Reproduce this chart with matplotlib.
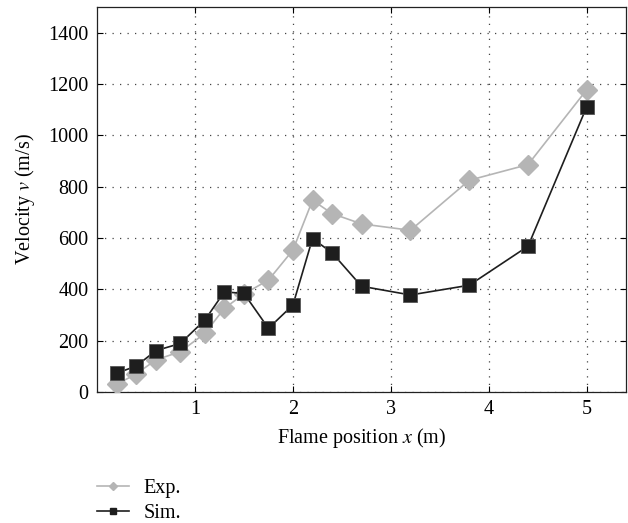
import matplotlib
matplotlib.use("Agg")
import matplotlib.pyplot as plt
from matplotlib.lines import Line2D

# Data
x_exp = [0.2, 0.4, 0.6, 0.85, 1.1, 1.3, 1.5, 1.75, 2.0, 2.2, 2.4, 2.7, 3.2, 3.8, 4.4, 5.0]
v_exp = [30, 70, 125, 157, 228, 326, 382, 436, 553, 747, 695, 655, 630, 825, 886, 1178]

x_sim = [0.2, 0.4, 0.6, 0.85, 1.1, 1.3, 1.5, 1.75, 2.0, 2.2, 2.4, 2.7, 3.2, 3.8, 4.4, 5.0]
v_sim = [73, 101, 161, 189, 280, 390, 384, 248, 339, 598, 542, 412, 378, 416, 568, 1112]

x_ticks = [1, 2, 3, 4, 5]
y_ticks = [0, 200, 400, 600, 800, 1000, 1200, 1400]

plt.rcParams['font.family'] = ['Liberation Serif', 'DejaVu Serif']
plt.rcParams['mathtext.fontset'] = 'stix'
fs = 14.5

exp_color = '#b5b5b5'
sim_color = '#1e1e1e'

fig = plt.figure(figsize=(6.28, 5.23), dpi=100)
ax = fig.add_axes([0.1545, 0.2505, 0.8423, 0.7361])

ax.plot(x_exp, v_exp, color=exp_color, lw=1.2, marker='D', ms=10.5,
        mfc=exp_color, mec=exp_color, zorder=3)
ax.plot(x_sim, v_sim, color=sim_color, lw=1.2, marker='s', ms=10,
        mfc=sim_color, mec='#555555', mew=0.6, zorder=4)

ax.set_xlim(0, 5.4)
ax.set_ylim(0, 1500)
ax.set_xticks(x_ticks)
ax.set_yticks(y_ticks)
ax.tick_params(direction='in', top=True, right=True, length=4, width=0.8,
               labelsize=fs, pad=6)
ax.grid(True, linestyle=(0, (1, 5)), color='#444444', lw=0.9)
for s in ax.spines.values():
    s.set_linewidth(0.9)
    s.set_color('#222222')

ax.set_xlabel(r'Flame position $x$ (m)', fontsize=fs, labelpad=5)
ax.set_ylabel(r'Velocity $v$ (m/s)', fontsize=fs, labelpad=8)

handles = [
    Line2D([], [], color=exp_color, lw=1.2, marker='D', ms=4.5,
           mfc=exp_color, mec=exp_color),
    Line2D([], [], color=sim_color, lw=1.2, marker='s', ms=4,
           mfc=sim_color, mec=sim_color),
]
fig.legend(handles, ['Exp.', 'Sim.'], loc='upper left',
           bbox_to_anchor=(0.142, 0.1), frameon=False,
           handlelength=1.6, handletextpad=0.7, labelspacing=0.3,
           fontsize=fs, borderaxespad=0)

fig.savefig('out.png', dpi=100)
